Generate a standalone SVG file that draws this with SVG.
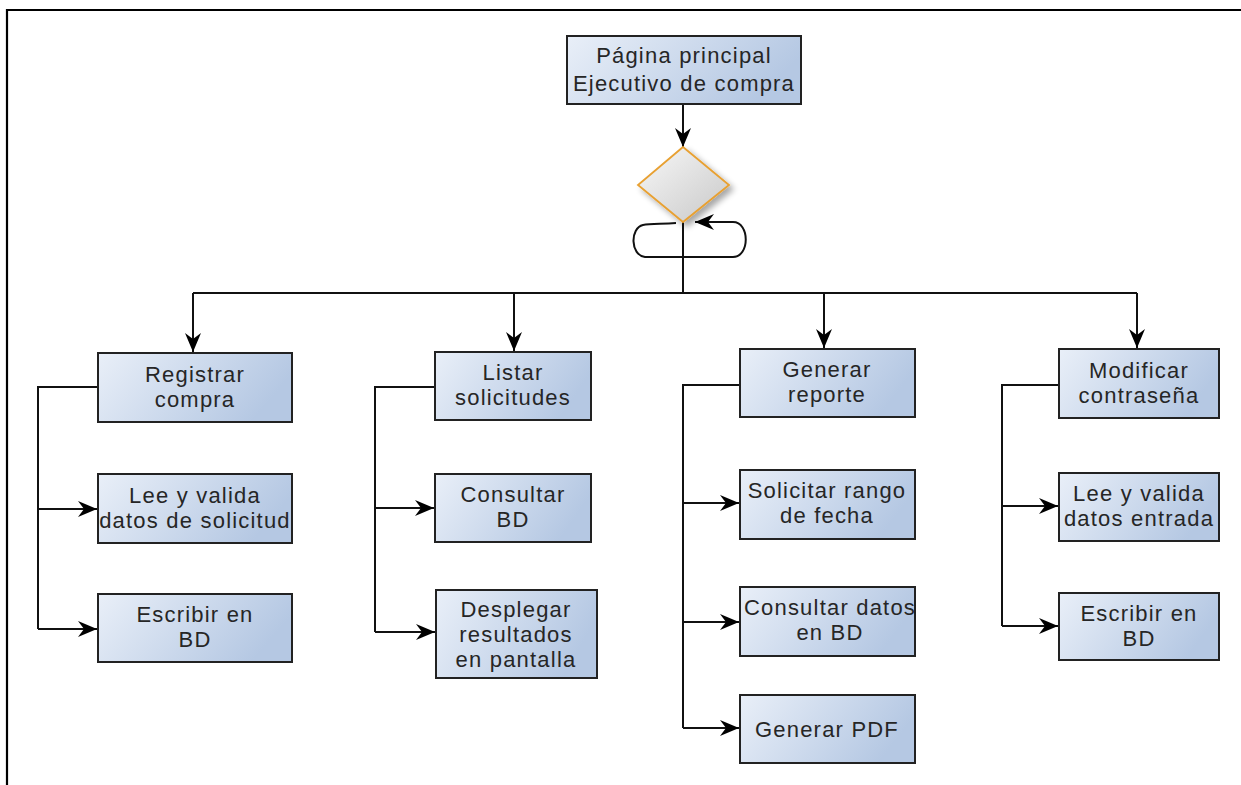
<svg xmlns="http://www.w3.org/2000/svg" width="1241" height="785" viewBox="0 0 1241 785">
  <defs>
    <linearGradient id="boxFill" x1="0" y1="0" x2="1" y2="0.3">
      <stop offset="0" stop-color="#e9eff8"/>
      <stop offset="1" stop-color="#b5c8e3"/>
    </linearGradient>
    <linearGradient id="diaFill" x1="0" y1="0" x2="1" y2="1">
      <stop offset="0" stop-color="#f8f8f8"/>
      <stop offset="1" stop-color="#c8c8c8"/>
    </linearGradient>
    <filter id="shadow" x="-30%" y="-30%" width="160%" height="160%">
      <feGaussianBlur in="SourceAlpha" stdDeviation="3"/>
      <feOffset dx="4" dy="4" result="b"/>
      <feComponentTransfer><feFuncA type="linear" slope="0.35"/></feComponentTransfer>
      <feMerge><feMergeNode/><feMergeNode in="SourceGraphic"/></feMerge>
    </filter>
    <marker id="arrow" viewBox="0 0 19 16" refX="19" refY="8" markerWidth="19" markerHeight="16" markerUnits="userSpaceOnUse" orient="auto">
      <path d="M0,0 L19,8 L0,16 L6,8 Z" fill="#000"/>
    </marker>
  </defs>
  <style>
    .box { fill: url(#boxFill); stroke: #222; stroke-width: 2; }
    .lbl { font-family: "Liberation Sans", Arial, sans-serif; font-size: 22px; letter-spacing: 1.2px; fill: #262626; text-anchor: middle; }
    .wire { fill: none; stroke: #111; stroke-width: 2; }
    .arr { marker-end: url(#arrow); }
  </style>

  <rect width="1241" height="785" fill="#fff"/>
  <!-- page frame -->
  <path d="M7,785 V10 H1241" fill="none" stroke="#000" stroke-width="2.2"/>

  <g id="connectors">
    <path class="wire arr" d="M683,104 V147"/>
    <path class="wire" d="M683,222 V293"/>
    <!-- self loop under the decision -->
    <path class="wire arr" d="M676,223 C660,224 650,224 643,225 C630,228 630,255 645,257 H733 C750,257 750,222 733,222 H695"/>
    <path class="wire" d="M193,293 H1137"/>
    <path class="wire arr" d="M193,293 V352"/>
    <path class="wire arr" d="M514,293 V351"/>
    <path class="wire arr" d="M824,293 V348"/>
    <path class="wire arr" d="M1137,293 V348"/>
    <!-- Registrar compra branch -->
    <path class="wire" d="M98,387 H38 V629"/>
    <path class="wire arr" d="M38,509 H97"/>
    <path class="wire arr" d="M38,629 H97"/>
    <!-- Listar solicitudes branch -->
    <path class="wire" d="M435,387 H375 V632"/>
    <path class="wire arr" d="M375,508 H434"/>
    <path class="wire arr" d="M375,632 H435"/>
    <!-- Generar reporte branch -->
    <path class="wire" d="M740,385 H683 V728"/>
    <path class="wire arr" d="M683,503 H739"/>
    <path class="wire arr" d="M683,622 H739"/>
    <path class="wire arr" d="M683,728 H739"/>
    <!-- Modificar contraseña branch -->
    <path class="wire" d="M1059,385 H1002 V626"/>
    <path class="wire arr" d="M1002,506 H1058"/>
    <path class="wire arr" d="M1002,626 H1058"/>
  </g>

  <g id="main">
    <rect class="box" x="567" y="36" width="234" height="68"/>
    <text class="lbl" x="684" y="63">Página principal</text>
    <text class="lbl" x="684" y="91">Ejecutivo de compra</text>
  </g>

  <g id="decision">
    <path d="M683,147 L729,185 L683,222 L638,185 Z" fill="url(#diaFill)" stroke="#e8a030" stroke-width="1.8" filter="url(#shadow)"/>
  </g>

  <g id="registrar">
    <rect class="box" x="98" y="353" width="194" height="69"/>
    <text class="lbl" x="195" y="382">Registrar</text>
    <text class="lbl" x="195" y="407">compra</text>
  </g>
  <g id="leeSolicitud">
    <rect class="box" x="98" y="474" width="194" height="69"/>
    <text class="lbl" x="195" y="503">Lee y valida</text>
    <text class="lbl" x="195" y="528">datos de solicitud</text>
  </g>
  <g id="escribirBD1">
    <rect class="box" x="98" y="594" width="194" height="68"/>
    <text class="lbl" x="195" y="622">Escribir en</text>
    <text class="lbl" x="195" y="647">BD</text>
  </g>

  <g id="listar">
    <rect class="box" x="435" y="352" width="156" height="68"/>
    <text class="lbl" x="513" y="380">Listar</text>
    <text class="lbl" x="513" y="405">solicitudes</text>
  </g>
  <g id="consultarBD">
    <rect class="box" x="435" y="474" width="156" height="68"/>
    <text class="lbl" x="513" y="502">Consultar</text>
    <text class="lbl" x="513" y="527">BD</text>
  </g>
  <g id="desplegar">
    <rect class="box" x="436" y="590" width="161" height="88"/>
    <text class="lbl" x="516" y="617">Desplegar</text>
    <text class="lbl" x="516" y="642">resultados</text>
    <text class="lbl" x="516" y="667">en pantalla</text>
  </g>

  <g id="generarReporte">
    <rect class="box" x="740" y="349" width="175" height="68"/>
    <text class="lbl" x="827" y="377">Generar</text>
    <text class="lbl" x="827" y="402">reporte</text>
  </g>
  <g id="solicitarRango">
    <rect class="box" x="740" y="470" width="175" height="69"/>
    <text class="lbl" x="827" y="498">Solicitar rango</text>
    <text class="lbl" x="827" y="523">de fecha</text>
  </g>
  <g id="consultarDatos">
    <rect class="box" x="740" y="587" width="175" height="69"/>
    <text class="lbl" x="830" y="615">Consultar datos</text>
    <text class="lbl" x="830" y="640">en BD</text>
  </g>
  <g id="generarPDF">
    <rect class="box" x="740" y="695" width="175" height="68"/>
    <text class="lbl" x="827" y="737">Generar PDF</text>
  </g>

  <g id="modificar">
    <rect class="box" x="1059" y="349" width="160" height="69"/>
    <text class="lbl" x="1139" y="378">Modificar</text>
    <text class="lbl" x="1139" y="403">contraseña</text>
  </g>
  <g id="leeEntrada">
    <rect class="box" x="1059" y="473" width="160" height="68"/>
    <text class="lbl" x="1139" y="501">Lee y valida</text>
    <text class="lbl" x="1139" y="526">datos entrada</text>
  </g>
  <g id="escribirBD2">
    <rect class="box" x="1059" y="593" width="160" height="67"/>
    <text class="lbl" x="1139" y="621">Escribir en</text>
    <text class="lbl" x="1139" y="646">BD</text>
  </g>
</svg>
